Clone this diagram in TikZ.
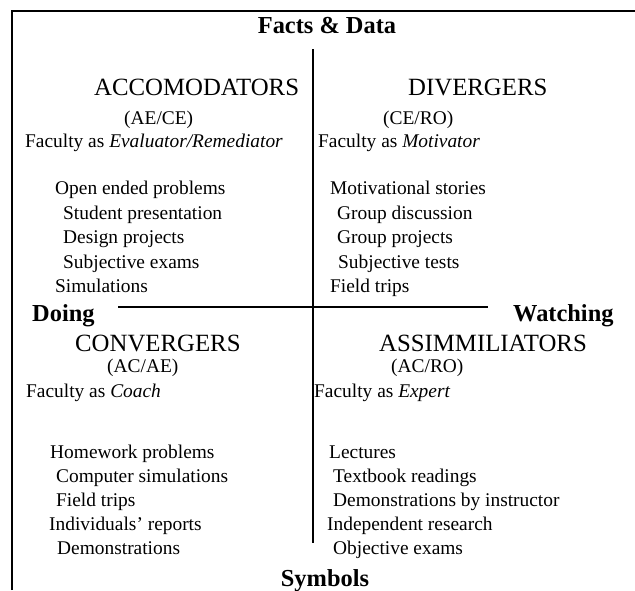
\documentclass[tikz,border=0pt]{standalone}
\usepackage{fontspec}
\setmainfont{Liberation Serif}
\usepackage{tikz}

\begin{document}
\begin{tikzpicture}[x=1pt, y=-1pt, every node/.style={inner sep=0pt, anchor=base west, font=\fontsize{19.4}{23}\selectfont}]
\tikzset{head/.style={font=\fontsize{24.8}{29}\selectfont}, axis/.style={font=\fontsize{24.4}{29}\selectfont\bfseries}}
\useasboundingbox (0,0) rectangle (635,590);
\draw[line width=2.5pt] (12,590) -- (12,11) -- (635,11);
\coordinate (vtop) at (313,49);
\coordinate (vbot) at (313,543);
\coordinate (hl) at (118,307);
\coordinate (hr) at (488,307);
\draw[line width=1.7pt] (vtop) -- (vbot);
\draw[line width=1.7pt] (hl) -- (hr);
\node[axis, anchor=base] (facts) at (327,33) {Facts \& Data};
\node[axis, anchor=base] (symb) at (325,586) {Symbols};
\node[axis] (doing) at (32,321) {Doing};
\node[axis] (watch) at (513,321) {Watching};
% top left
\node[head] (acc) at (94,95) {ACCOMODATORS};
\node (acc1) at (124,124) {(AE/CE)};
\node (acc2) at (25,147.5) {Faculty as \textit{Evaluator/Remediator}};
\node (a1) at (55,194.5) {Open ended problems};
\node (a2) at (63,219) {Student presentation};
\node (a3) at (63,243.5) {Design projects};
\node (a4) at (63,268) {Subjective exams};
\node (a5) at (55,292.5) {Simulations};
% top right
\node[head] (div) at (408,95) {DIVERGERS};
\node (div1) at (383,124) {(CE/RO)};
\node (div2) at (318,147.5) {Faculty as \textit{Motivator}};
\node (d1) at (330,194.5) {Motivational stories};
\node (d2) at (337,219) {Group discussion};
\node (d3) at (337,243.5) {Group projects};
\node (d4) at (338,268) {Subjective tests};
\node (d5) at (330,292.5) {Field trips};
% bottom left
\node[head] (conv) at (75,351) {CONVERGERS};
\node (conv1) at (107,372.5) {(AC/AE)};
\node (conv2) at (26,397) {Faculty as \textit{Coach}};
\node (c1) at (50,458) {Homework problems};
\node (c2) at (56,482) {Computer simulations};
\node (c3) at (56,506) {Field trips};
\node (c4) at (49,530) {Individuals’ reports};
\node (c5) at (57,554) {Demonstrations};
% bottom right
\node[head] (ass) at (379,351) {ASSIMMILIATORS};
\node (ass1) at (391,372.5) {(AC/RO)};
\node (ass2) at (314,397) {Faculty as \textit{Expert}};
\node (s1) at (329,458) {Lectures};
\node (s2) at (333,482) {Textbook readings};
\node (s3) at (333,506) {Demonstrations by instructor};
\node (s4) at (327,530) {Independent research};
\node (s5) at (333,554) {Objective exams};
\end{tikzpicture}
\end{document}
